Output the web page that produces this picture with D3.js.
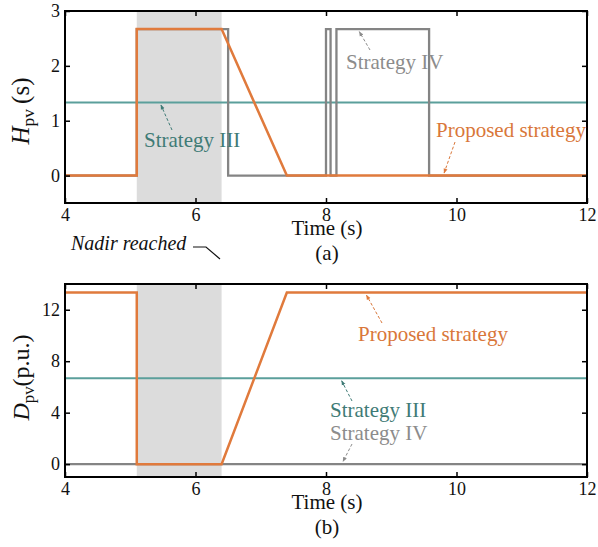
<!DOCTYPE html>
<html><head><meta charset="utf-8">
<script src="https://cdn.jsdelivr.net/npm/d3@7"></script>
<style>body{margin:0;background:#fff}svg{display:block}</style>
</head><body>
<svg id="c" width="598" height="547" font-family="'Liberation Serif', 'Times New Roman', Times, serif"></svg>
<script>
// Data
const xTicks = [4, 6, 8, 10, 12];
const hTicks = [0, 1, 2, 3];
const dTicks = [0, 4, 8, 12];
const shadeRange = [5.1, 6.4];
// Panel (a): H_pv (s)
const tProposed = [4, 5.1, 5.1, 6.4, 7.4, 12];
const hProposed = [0, 0, 2.67, 2.67, 0, 0];
const tIII = [4, 12];
const hIII = [1.333, 1.333];
const tIV = [4, 5.1, 5.1, 6.5, 6.5, 8.0, 8.0, 8.07, 8.07, 8.16, 8.16, 9.58, 9.58, 12];
const hIV = [0, 0, 2.67, 2.67, 0, 0, 2.67, 2.67, 0, 0, 2.67, 2.67, 0, 0];
// Panel (b): D_pv (p.u.)
const dProposed = [13.33, 13.33, 0, 0, 13.33, 13.33];
const dIII = [6.67, 6.67];
const tDIV = [4, 12];
const dIV = [0, 0];

const FONT = "'Liberation Serif', 'Times New Roman', Times, serif";
const colors = {prop: "#e07a3c", iii: "#5b9f9b", iv: "#848484", iiiText: "#3f7b76", ivText: "#8c8c8c", propText: "#d9773a"};

const svg = d3.select("#c");
const defs = svg.append("defs");
function marker(id, col) {
  defs.append("marker").attr("id", id).attr("viewBox", "0 0 10 10").attr("refX", 9).attr("refY", 5)
    .attr("markerWidth", 5).attr("markerHeight", 5).attr("orient", "auto")
    .append("path").attr("d", "M0,1 L10,5 L0,9 z").attr("fill", col);
}
marker("mProp", colors.prop); marker("mIII", colors.iiiText); marker("mIV", colors.ivText);

function panel(cfg) {
  const x = d3.scaleLinear().domain([4, 12]).range([65, 587]);
  const y = d3.scaleLinear().domain(cfg.yDomain).range([cfg.bottom, cfg.top]);
  const g = svg.append("g");
  const clipId = "clip" + cfg.name;
  defs.append("clipPath").attr("id", clipId).append("rect")
    .attr("x", 65).attr("y", cfg.top).attr("width", 522).attr("height", cfg.bottom - cfg.top);
  g.append("rect").attr("x", x(shadeRange[0])).attr("y", cfg.top)
    .attr("width", x(shadeRange[1]) - x(shadeRange[0])).attr("height", cfg.bottom - cfg.top)
    .attr("fill", "#dcdcdc");
  const line = d3.line().x(d => x(d[0])).y(d => y(d[1]));
  const plot = g.append("g").attr("clip-path", `url(#${clipId})`);
  cfg.series.forEach(s => {
    plot.append("path").datum(d3.zip(s.t, s.v)).attr("d", line)
      .attr("fill", "none").attr("stroke", s.color).attr("stroke-width", s.w)
      .attr("stroke-linejoin", "miter");
  });
  // axes
  const fs = 18;
  const xb = g.append("g").attr("transform", `translate(0,${cfg.bottom})`)
    .call(d3.axisBottom(x).tickValues(xTicks).tickSize(-5).tickPadding(5).tickFormat(d3.format("d")));
  const xt = g.append("g").attr("transform", `translate(0,${cfg.top})`)
    .call(d3.axisTop(x).tickValues(xTicks).tickSize(-5).tickFormat(""));
  const yl = g.append("g").attr("transform", `translate(65,0)`)
    .call(d3.axisLeft(y).tickValues(cfg.yTicks).tickSize(-5).tickPadding(5).tickFormat(d3.format("d")));
  const yr = g.append("g").attr("transform", `translate(587,0)`)
    .call(d3.axisRight(y).tickValues(cfg.yTicks).tickSize(-5).tickFormat(""));
  [xb, xt, yl, yr].forEach(a => {
    a.attr("font-family", FONT).attr("font-size", fs);
    a.select(".domain").remove();
    a.selectAll(".tick line").attr("stroke", "#000").attr("stroke-width", 1.5);
    a.selectAll(".tick text").attr("fill", "#111").attr("font-family", FONT);
  });
  g.append("rect").attr("x", 65).attr("y", cfg.top).attr("width", 522).attr("height", cfg.bottom - cfg.top)
    .attr("fill", "none").attr("stroke", "#000").attr("stroke-width", 2);
  // x label
  g.append("text").attr("x", 327).attr("y", cfg.bottom + 32).attr("text-anchor", "middle")
    .attr("font-size", 21).attr("fill", "#111").text("Time (s)");
  g.append("text").attr("x", 327).attr("y", cfg.bottom + 57).attr("text-anchor", "middle")
    .attr("font-size", 21).attr("fill", "#111").text(cfg.sub);
  // y label
  const yc = (cfg.top + cfg.bottom) / 2 + cfg.yLabelShift;
  const yt = g.append("text").attr("transform", `translate(29,${yc}) rotate(-90)`)
    .attr("text-anchor", "middle").attr("font-size", cfg.yLabelSize).attr("fill", "#111");
  yt.append("tspan").attr("font-style", "italic").text(cfg.ySym);
  yt.append("tspan").attr("font-size", cfg.yLabelSize * 0.7).attr("dy", 5).text("pv");
  yt.append("tspan").attr("dy", -5).text(cfg.yUnit);
  // annotations
  cfg.notes.forEach(n => {
    g.append("text").attr("x", n.tx).attr("y", n.ty).attr("font-size", 21)
      .attr("fill", n.color).text(n.text);
    if (n.arrow) {
      g.append("line").attr("x1", n.arrow[0]).attr("y1", n.arrow[1])
        .attr("x2", x(n.arrow[2])).attr("y2", y(n.arrow[3]) + n.arrow[4])
        .attr("stroke", n.color).attr("stroke-width", 1).attr("stroke-dasharray", "3,2")
        .attr("marker-end", `url(#${n.marker})`);
    }
  });
  return {x, y, g};
}

const a = panel({
  name: "a", top: 11, bottom: 203, yDomain: [-0.5, 3], yTicks: hTicks, sub: "(a)",
  ySym: "H", yUnit: "\u2009(s)", yLabelSize: 25, yLabelShift: 4,
  series: [
    {t: tIII, v: hIII, color: colors.iii, w: 2},
    {t: tIV, v: hIV, color: colors.iv, w: 2.3},
    {t: tProposed, v: hProposed, color: colors.prop, w: 2.5}
  ],
  notes: [
    {text: "Strategy III", tx: 144, ty: 147, color: colors.iiiText, arrow: [172, 130, 5.47, 1.333, 2.5], marker: "mIII"},
    {text: "Strategy IV", tx: 346, ty: 69, color: colors.ivText, arrow: [370, 50, 8.51, 2.67, 2.5], marker: "mIV"},
    {text: "Proposed strategy", tx: 436, ty: 137, color: colors.propText, arrow: [455, 142, 9.81, 0, -2.5], marker: "mProp"}
  ]
});
// Nadir reached
svg.append("text").attr("x", 71).attr("y", 250).attr("font-size", 20).attr("font-style", "italic")
  .attr("fill", "#111").text("Nadir reached");
svg.append("path").attr("d", d3.line()([[193, 247], [206, 247], [220, 259]]))
  .attr("fill", "none").attr("stroke", "#111").attr("stroke-width", 1.2);

const b = panel({
  name: "b", top: 284, bottom: 477, yDomain: [-1, 14], yTicks: dTicks, sub: "(b)",
  ySym: "D", yUnit: "(p.u.)", yLabelSize: 24, yLabelShift: -3,
  series: [
    {t: tIII, v: dIII, color: colors.iii, w: 2},
    {t: tDIV, v: dIV, color: colors.iv, w: 2.3},
    {t: tProposed, v: dProposed, color: colors.prop, w: 2.5}
  ],
  notes: [
    {text: "Proposed strategy", tx: 358, ty: 341, color: colors.propText, arrow: [382, 323, 8.62, 13.33, 2.5], marker: "mProp"},
    {text: "Strategy III", tx: 330, ty: 417, color: colors.iiiText, arrow: [352, 401, 8.24, 6.67, 2.5], marker: "mIII"},
    {text: "Strategy IV", tx: 330, ty: 440, color: colors.ivText, arrow: [352, 444, 8.26, 0, -2.5], marker: "mIV"}
  ]
});
</script>
</body></html>
